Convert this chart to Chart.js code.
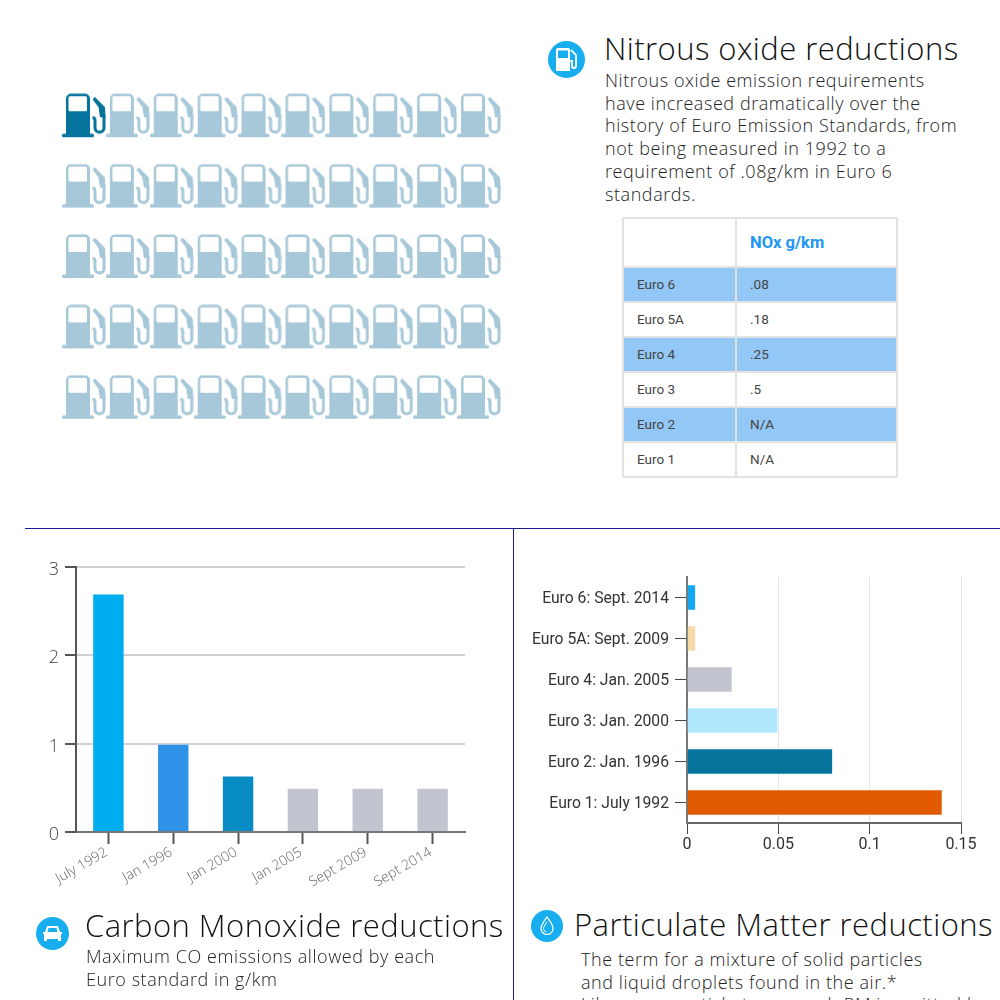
<!DOCTYPE html>
<html>
<head>
<meta charset="utf-8">
<script src="https://cdn.jsdelivr.net/npm/chart.js@4"></script>
<style>
    html, body { margin: 0; padding: 0; background: #fff; }
    body { width: 1000px; height: 1000px; position: relative; overflow: hidden; font-family: "Open Sans", sans-serif; }
    .box { position: absolute; }
    h2 { position: absolute; margin: 0; font-family: "Open Sans", sans-serif; font-weight: 300; color: #111; white-space: nowrap; font-size: 31px; letter-spacing: 0.45px; }
    p { position: absolute; margin: 0; font-family: "Open Sans", sans-serif; font-weight: 300; color: #222; font-size: 18px; letter-spacing: 0.57px; line-height: 22.7px; white-space: nowrap; }
    .rule { position: absolute; background: #1b1b96; }
    table { position: absolute; left: 622px; top: 217px; width: 276px; table-layout: fixed; border-collapse: collapse; font-family: Roboto, sans-serif; font-size: 13.5px; color: #444; }
    td, th { border: 2px solid #e3e3e3; text-align: left; padding: 0 0 0 13px; box-sizing: content-box; }
    td { height: 31px; padding-bottom: 2px; }
    th { height: 47px; color: #2196f3; font-size: 16.5px; font-weight: 700; }
    tr.odd td { background: #93c7f6; }
</style>
</head>
<body>
    <div class="box" style="left:62px;top:81px;width:439px;height:352px"><canvas id="pumps" width="439" height="352"></canvas></div>
    <svg class="box" style="left:548px;top:41px" width="37" height="37" viewBox="0 0 37 37">
        <circle cx="18.5" cy="18.500" r="18.5" fill="#16aeef"/>
        <path d="M8 30V9a2 2 0 0 1 2-2h10a2 2 0 0 1 2 2v21z M10 9.500v7.500h10v-7.500z" fill="#fff" fill-rule="evenodd"/>
        <path d="M23 9l5 5v11a2 2 0 0 1-4 0v-5h-2" fill="none" stroke="#fff" stroke-width="1.8"/>
    </svg>
    <h2 style="left:604px;top:27px">Nitrous oxide reductions</h2>
    <p style="left:605px;top:69px">Nitrous oxide emission requirements<br>have increased dramatically over the<br>history of Euro Emission Standards, from<br>not being measured in 1992 to a<br>requirement of .08g/km in Euro 6<br>standards.</p>
    <table id="nox"></table>

    <div class="rule" style="left:25px;top:528px;width:975px;height:1px"></div>
    <div class="rule" style="left:513px;top:528px;width:1px;height:472px"></div>

    <div class="box" style="left:25px;top:550px;width:480px;height:360px"><canvas id="co" width="480" height="360"></canvas></div>
    <div class="box" style="left:520px;top:560px;width:470px;height:310px"><canvas id="pm" width="470" height="310"></canvas></div>

    <svg class="box" style="left:36px;top:917px" width="33" height="33" viewBox="0 0 33 33">
        <circle cx="16.5" cy="16.5" r="16.5" fill="#16aeef"/>
        <path d="M9 15l2-6h11l2 6h2v2h-1v7h-3v-2H11v2H8v-7H7v-2z" fill="#fff"/>
        <path d="M11.500 15l1-4h8l1 4z" fill="#16aeef"/>
    </svg>
    <h2 style="left:85px;top:904px">Carbon Monoxide reductions</h2>
    <p style="left:86px;top:945px">Maximum CO emissions allowed by each<br>Euro standard in g/km</p>

    <svg class="box" style="left:531px;top:910px" width="32" height="32" viewBox="0 0 32 32">
        <circle cx="16" cy="16" r="16" fill="#16aeef"/>
        <path d="M16 7c3 4.500 6 8 6 11.500a6 6 0 0 1-12 0C10 15 13 11.500 16 7z" fill="none" stroke="#fff" stroke-width="1.2"/>
        <path d="M16 12c-2 3-3.500 5-3.500 6.500a3.500 3.500 0 0 0 3 3.500" fill="none" stroke="#fff" stroke-width="1"/>
    </svg>
    <h2 style="left:574px;top:903px">Particulate Matter reductions</h2>
    <p style="left:581px;top:948px">The term for a mixture of solid particles<br>and liquid droplets found in the air.*<br>Like many particle types, each PM is emitted by</p>

<script>
    // Pump grid
    const pumpColumns = [1, 2, 3, 4, 5, 6, 7, 8, 9, 10];
    const pumpRows = [1, 2, 3, 4, 5];

    // NOx table
    const noxStandards = ['Euro 6', 'Euro 5A', 'Euro 4', 'Euro 3', 'Euro 2', 'Euro 1'];
    const noxValues = ['.08', '.18', '.25', '.5', 'N/A', 'N/A'];

    // Carbon monoxide chart
    const coDates = ['July 1992', 'Jan 1996', 'Jan 2000', 'Jan 2005', 'Sept 2009', 'Sept 2014'];
    const coValues = [2.7, 1, 0.64, 0.5, 0.5, 0.5];
    const coColors = ['#00aeef', '#2e93e8', '#068cc2', '#c2c5d0', '#c2c5d0', '#c2c5d0'];

    // Particulate matter chart
    const pmLabels = ['Euro 6: Sept. 2014', 'Euro 5A: Sept. 2009', 'Euro 4: Jan. 2005', 'Euro 3: Jan. 2000', 'Euro 2: Jan. 1996', 'Euro 1: July 1992'];
    const pmValues = [0.005, 0.005, 0.025, 0.05, 0.08, 0.14];
    const pmColors = ['#12a9f2', '#f5d9a6', '#c2c5d0', '#b0e8ff', '#04749c', '#e25a00'];

    // Table
    const noxTable = document.getElementById('nox');
    let rowsHtml = '<tr><th style="width:98px"></th><th>NOx g/km</th></tr>';
    noxStandards.forEach((name, i) => {
        rowsHtml += `<tr class="${i % 2 === 0 ? 'odd' : ''}"><td>${name}</td><td>${noxValues[i]}</td></tr>`;
    });
    noxTable.innerHTML = rowsHtml;

    // Draw one fuel pump icon into its own canvas, used as point style
    function makePump(color) {
        const c = document.createElement('canvas');
        c.width = 44;
        c.height = 46;
        const g = c.getContext('2d');
        g.fillStyle = color;
        g.strokeStyle = color;
        g.beginPath();
        g.roundRect(4, 0.5, 24, 41, [5, 5, 0, 0]);
        g.fill();
        g.beginPath();
        g.roundRect(0, 40.500, 32, 3.5, 1.5);
        g.fill();
        g.fillStyle = '#fff';
        g.beginPath();
        g.roundRect(6.5, 3, 18.5, 15, 1.5);
        g.fill();
        g.fillStyle = color;
        g.beginPath();
        g.moveTo(30.5, 6);
        g.lineTo(33, 3.7);
        g.lineTo(43, 14);
        g.lineTo(43.500, 24);
        g.lineTo(38, 24);
        g.lineTo(36.5, 14);
        g.closePath();
        g.fill();
        g.lineWidth = 3;
        g.beginPath();
        g.moveTo(42, 22);
        g.lineTo(42, 34.5);
        g.arc(37.5, 34.5, 4.5, 0, Math.PI);
        g.lineTo(33, 27);
        g.arc(30.5, 27, 2.5, 0, -Math.PI / 2, true);
        g.stroke();
        return c;
    }

    const pumpMuted = makePump('#a7c8d8');
    const pumpDark = makePump('#04749c');

    const pumpPoints = [];
    pumpRows.forEach(row => {
        pumpColumns.forEach(col => {
            pumpPoints.push({ x: col, y: row });
        });
    });

    new Chart(document.getElementById('pumps').getContext('2d'), {
        type: 'scatter',
        data: {
            datasets: [{
                data: pumpPoints,
                pointStyle: ctx => (ctx.dataIndex === 0 ? pumpDark : pumpMuted),
                radius: 20,
                clip: false
            }]
        },
        options: {
            responsive: false,
            animation: false,
            layout: { padding: 0, autoPadding: false },
            plugins: { legend: { display: false }, tooltip: { enabled: false } },
            scales: {
                x: { display: false, min: 0.5, max: 10.5 },
                y: { display: false, min: 0.5, max: 5.5, reverse: true }
            }
        }
    });

    // Carbon monoxide bars
    new Chart(document.getElementById('co').getContext('2d'), {
        type: 'bar',
        data: {
            labels: coDates,
            datasets: [{
                data: coValues,
                backgroundColor: coColors,
                borderColor: 'rgba(255,255,255,0.2)',
                borderWidth: 1,
                barPercentage: 0.5,
                categoryPercentage: 1
            }]
        },
        options: {
            responsive: false,
            animation: false,
            layout: { padding: { top: 17, right: 40 } },
            plugins: { legend: { display: false }, tooltip: { enabled: false } },
            scales: {
                x: {
                    afterFit: scale => { scale.height = 78; },
                    border: { color: '#777', width: 2 },
                    grid: { offset: false, drawOnChartArea: false, tickLength: 12, tickColor: '#555', tickWidth: 2 },
                    ticks: { color: '#666', font: { family: 'Open Sans', size: 14, weight: '300' }, maxRotation: 30, minRotation: 30, padding: 0, labelOffset: -2 }
                },
                y: {
                    min: 0,
                    max: 3,
                    afterFit: scale => { scale.width = 51; },
                    border: { color: '#555', width: 2 },
                    grid: { color: '#cfd0d8', lineWidth: 2, tickLength: 11, tickColor: '#555' },
                    ticks: { stepSize: 1, color: '#444', font: { family: 'Open Sans', size: 18, weight: '300' }, padding: 6, labelOffset: 3 }
                }
            }
        }
    });

    // Particulate matter bars
    new Chart(document.getElementById('pm').getContext('2d'), {
        type: 'bar',
        data: {
            labels: pmLabels,
            datasets: [{
                data: pmValues,
                backgroundColor: pmColors,
                borderColor: 'rgba(255,255,255,0.2)',
                borderWidth: 1,
                barPercentage: 0.65,
                categoryPercentage: 1
            }]
        },
        options: {
            indexAxis: 'y',
            responsive: false,
            animation: false,
            layout: { padding: { top: 17, right: 29 } },
            plugins: { legend: { display: false }, tooltip: { enabled: false } },
            scales: {
                x: {
                    min: 0,
                    max: 0.15,
                    afterFit: scale => { scale.height = 47; },
                    border: { color: '#666', width: 2 },
                    grid: { color: '#e3e3e3', lineWidth: 1, tickLength: 11, tickColor: '#444' },
                    ticks: { stepSize: 0.05, color: '#333', font: { family: 'Roboto', size: 16 }, padding: 1, callback: v => +v.toFixed(2) }
                },
                y: {
                    afterFit: scale => { scale.width = 167; },
                    border: { color: '#777', width: 2 },
                    grid: { offset: false, drawOnChartArea: false, tickLength: 12, tickColor: '#444' },
                    ticks: { color: '#333', font: { family: 'Roboto', size: 15.7 }, padding: 6, labelOffset: 2 }
                }
            }
        }
    });
</script>
</body>
</html>
